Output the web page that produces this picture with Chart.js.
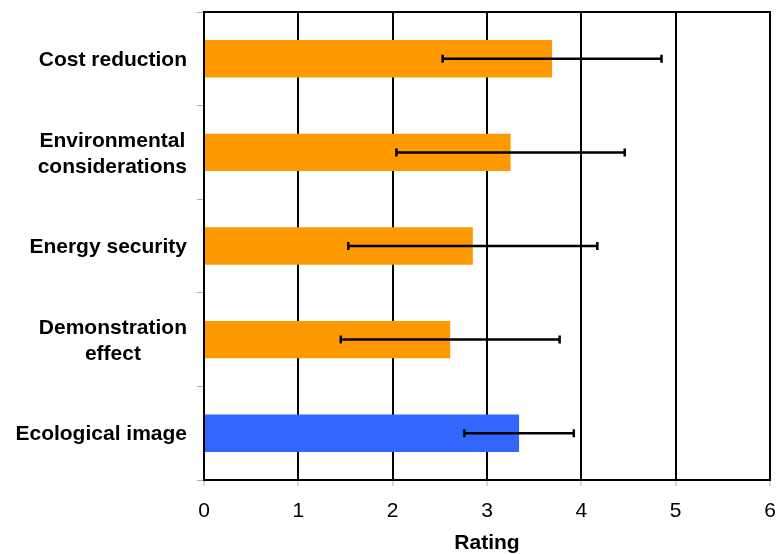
<!DOCTYPE html>
<html>
<head>
<meta charset="utf-8">
<script src="https://cdn.jsdelivr.net/npm/chart.js@4.4.1/dist/chart.umd.min.js"></script>
<style>
  html, body { margin: 0; padding: 0; background: #fff; }
  #wrap { width: 776px; height: 554px; }
</style>
</head>
<body>
<div id="wrap"><canvas id="ratingChart"></canvas></div>
<script>
// ============================================================
// DATA
// ============================================================

const categories = [
  "Cost reduction",
  ["Environmental", "considerations"],
  "Energy security",
  ["Demonstration", "effect"],
  "Ecological image"
];
const ratings = [3.69, 3.25, 2.85, 2.61, 3.34];
const errors = [1.16, 1.21, 1.32, 1.16, 0.58];
const xTicks = [0, 1, 2, 3, 4, 5, 6];
const axisTitle = "Rating";

const barColors = ["#ff9900", "#ff9900", "#ff9900", "#ff9900", "#3366ff"];
const fontFamily = "'Liberation Sans', Arial, sans-serif";

// ============================================================
// PLUGINS
// ============================================================

// error bars (mean +/- sd) drawn on top of each bar
const errorBars = {
  id: "errorBars",
  afterDatasetsDraw(chart) {
    const ctx = chart.ctx;
    const xScale = chart.scales.x;
    const meta = chart.getDatasetMeta(0);

    ctx.save();
    ctx.strokeStyle = "#000";
    ctx.lineWidth = 2.5;
    meta.data.forEach(function(bar, i) {
      const y = bar.y;
      const x1 = xScale.getPixelForValue(ratings[i] - errors[i]);
      const x2 = xScale.getPixelForValue(ratings[i] + errors[i]);
      ctx.beginPath();
      ctx.moveTo(x1, y);
      ctx.lineTo(x2, y);
      ctx.moveTo(x1, y - 4);
      ctx.lineTo(x1, y + 4);
      ctx.moveTo(x2, y - 4);
      ctx.lineTo(x2, y + 4);
      ctx.stroke();
    });
    ctx.restore();
  }
};

// plot frame + category labels (block right-aligned, lines centred)
const frameAndLabels = {
  id: "frameAndLabels",
  afterDraw(chart) {
    const ctx = chart.ctx;
    const area = chart.chartArea;
    const yScale = chart.scales.y;

    ctx.save();
    ctx.strokeStyle = "#000";
    ctx.lineWidth = 2;
    ctx.strokeRect(area.left, area.top, area.right - area.left, area.bottom - area.top);

    ctx.font = "bold 21px " + fontFamily;
    ctx.fillStyle = "#000";
    ctx.textAlign = "center";
    ctx.textBaseline = "middle";
    const rightEdge = area.left - 17;
    const lineHeight = 26;

    categories.forEach(function(label, i) {
      const lines = Array.isArray(label) ? label : [label];
      const blockWidth = Math.max.apply(null, lines.map(function(l) { return ctx.measureText(l).width; }));
      const cx = rightEdge - blockWidth / 2;
      const cy = yScale.getPixelForValue(i) + 1.5;
      const startY = cy - (lines.length - 1) * lineHeight / 2;
      lines.forEach(function(line, j) {
        ctx.fillText(line, cx, startY + j * lineHeight);
      });
    });
    ctx.restore();
  }
};

// ============================================================
// CHART
// ============================================================

const ctx = document.getElementById("ratingChart").getContext("2d");

const ratingChart = new Chart(ctx, {
  type: "bar",
  data: {
    labels: categories,
    datasets: [
      {
        data: ratings,
        backgroundColor: barColors,
        borderWidth: 0,
        categoryPercentage: 1,
        barPercentage: 0.4
      }
    ]
  },
  options: {
    indexAxis: "y",
    responsive: true,
    maintainAspectRatio: false,
    animation: false,
    layout: {
      padding: { top: 12, right: 6, bottom: 0, left: 0 }
    },
    plugins: {
      legend: { display: false },
      tooltip: { enabled: false }
    },
    scales: {
      x: {
        min: xTicks[0],
        max: xTicks[xTicks.length - 1],
        afterBuildTicks(scale) {
          scale.ticks = xTicks.map(function(v) { return { value: v }; });
        },
        afterFit(scale) {
          scale.height = 74;
          scale.paddingRight = 0;
          scale.paddingLeft = 0;
        },
        ticks: {
          color: "#000",
          padding: 13,
          font: { family: fontFamily, size: 21 }
        },
        grid: {
          color: "#000",
          lineWidth: 2,
          tickColor: "#b0b0b0",
          tickWidth: 1,
          tickLength: 6
        },
        border: { color: "#000", width: 2 },
        title: {
          display: true,
          text: axisTitle,
          color: "#000",
          padding: { top: 0, bottom: -2 },
          font: { family: fontFamily, size: 21, weight: "bold" }
        }
      },
      y: {
        afterFit(scale) {
          scale.width = 204;
        },
        ticks: { display: false },
        grid: {
          drawOnChartArea: false,
          tickColor: "#b0b0b0",
          tickWidth: 1,
          tickLength: 7
        },
        border: { color: "#000", width: 2 }
      }
    }
  },
  plugins: [errorBars, frameAndLabels]
});
</script>
</body>
</html>
